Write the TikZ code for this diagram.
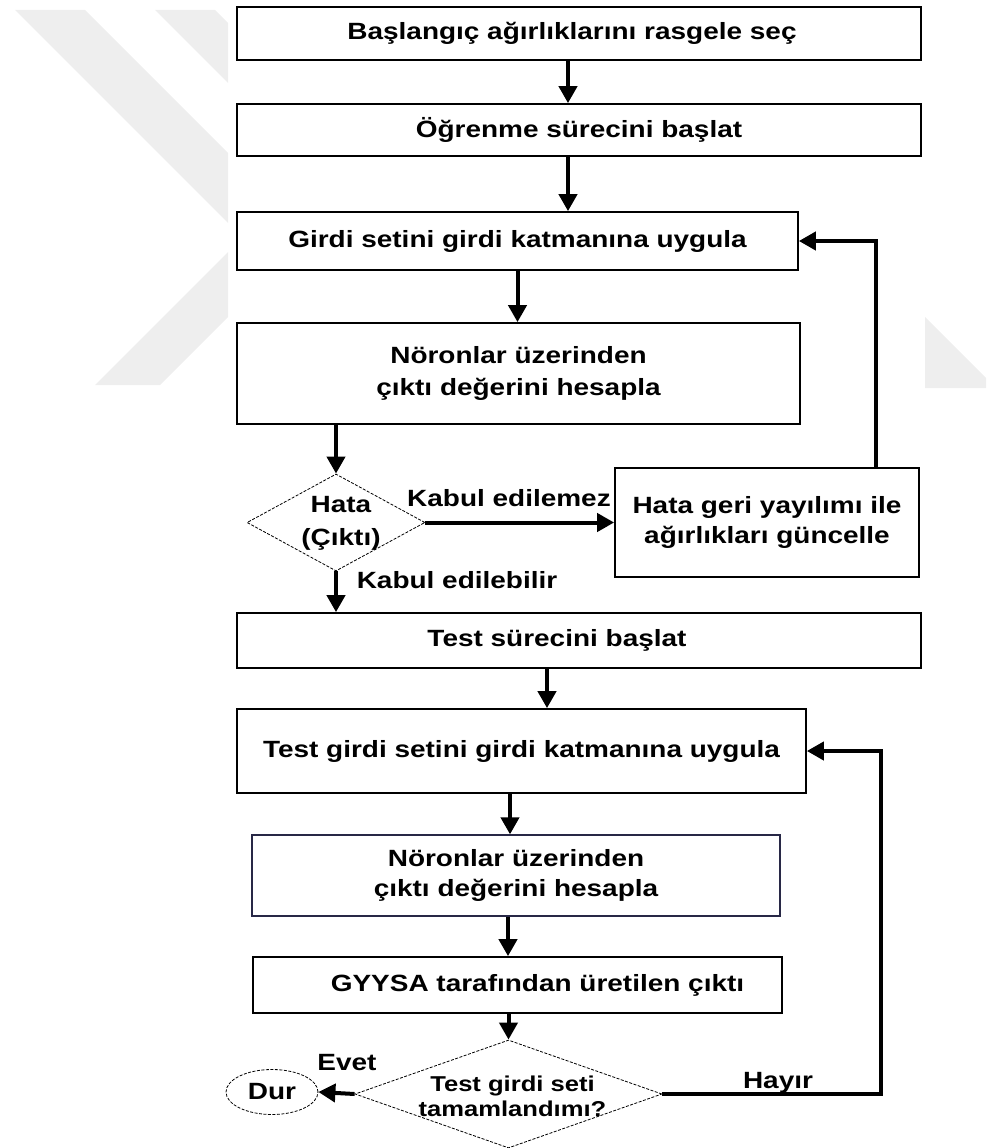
\documentclass[tikz,border=0pt]{standalone}
\usepackage{fontspec}
\setmainfont{Liberation Sans}[FakeStretch=1.19]
\usetikzlibrary{arrows.meta,shapes.geometric}
\definecolor{wm}{HTML}{EEEEEE}
\definecolor{navyline}{RGB}{40,40,70}
\begin{document}
\begin{tikzpicture}[x=1pt,y=-1pt,
  font=\bfseries\fontsize{23.5}{30}\selectfont,
  box/.style={draw=black, line width=1.7pt, fill=white, inner sep=0pt, align=center},
  dia/.style={diamond, draw=black, line width=0.8pt, dash pattern=on 3pt off 1.5pt, fill=white, inner sep=0pt},
  flow/.style={line width=4pt, -{Triangle[width=18pt,length=17pt]}},
  lbl/.style={inner sep=0pt}]
\useasboundingbox (0,0) rectangle (986,1148);

% faint background watermark strokes
\fill[wm] (15,10) -- (85,10) -- (228,153) -- (228,223) -- cycle;
\fill[wm] (155,10) -- (215,10) -- (228,23) -- (228,83) -- cycle;
\fill[wm] (95,385) -- (160,385) -- (228,317) -- (228,252) -- cycle;
\fill[wm] (925,317) -- (986,378) -- (986,388) -- (925,388) -- cycle;

% training phase
\node[box, minimum width=684pt, minimum height=53pt] (b1) at (579,33.5) {Başlangıç ağırlıklarını rasgele seç\hspace*{14pt}};
\node[box, minimum width=684pt, minimum height=52pt] (b2) at (579,130) {Öğrenme sürecini başlat};
\node[box, minimum width=561pt, minimum height=58pt] (b3) at (517.5,241) {Girdi setini girdi katmanına uygula};
\node[box, minimum width=563pt, minimum height=101pt] (b4) at (518.5,373.5) {Nöronlar üzerinden\\[2pt]çıktı değerini hesapla};
\node[dia, minimum width=178pt, minimum height=97pt,
      label={[lbl, align=center, xshift=5pt, yshift=-1pt]center:Hata\\[3pt](Çıktı)}] (d1) at (336,522.5) {};
\node[box, minimum width=304pt, minimum height=109pt] (b5) at (767,522.5) {Hata geri yayılımı ile\\ağırlıkları güncelle};

% test phase
\node[box, minimum width=684pt, minimum height=55pt] (b6) at (579,640.5) {Test sürecini başlat\hspace*{44pt}};
\node[box, minimum width=569pt, minimum height=84pt] (b7) at (521.5,751) {Test girdi setini girdi katmanına uygula};
\node[box, draw=navyline, line width=1.3pt, minimum width=528pt, minimum height=81pt] (b8) at (516,875.5) {Nöronlar üzerinden\\çıktı değerini hesapla};
\node[box, minimum width=529pt, minimum height=56pt] (b9) at (517.5,985) {\hspace*{40pt}GYYSA tarafından üretilen çıktı};
\node[dia, minimum width=307pt, minimum height=108pt,
      label={[lbl, align=center, xshift=4pt, yshift=-2pt, font=\bfseries\fontsize{21.5}{25}\selectfont]center:Test girdi seti\\tamamlandımı?}] (d2) at (508.5,1094) {};
\node[ellipse, draw=black, line width=0.8pt, dash pattern=on 3pt off 1.5pt, inner sep=0pt,
      minimum width=92pt, minimum height=45pt] (dur) at (272,1092) {Dur};

% connector labels
\node[lbl] (kz) at (509,498) {Kabul edilemez};
\node[lbl] (kb) at (457,580) {Kabul edilebilir};
\node[lbl] (ev) at (347,1063) {Evet};
\node[lbl] (hy) at (778,1083) {Hayır};

% connectors
\draw[flow] ([xshift=-11pt]b1.south) -- ([xshift=-11pt]b1.south |- b2.north);
\draw[flow] ([xshift=-11pt]b2.south) -- ([xshift=-11pt]b2.south |- b3.north);
\draw[flow] (b3.south) -- (b3.south |- b4.north);
\draw[flow] (d1.north |- b4.south) -- (d1.north);
\draw[flow] (d1.east) -- (d1.east -| b5.west);
\draw[flow] ([xshift=109pt]b5.north) |- (b3.east);
\draw[flow] (d1.south) -- (d1.south |- b6.north);
\draw[flow] ([xshift=-32pt]b6.south) -- ([xshift=-32pt]b6.south |- b7.north);
\draw[flow] ([xshift=-11.5pt]b7.south) -- ([xshift=-11.5pt]b7.south |- b8.north);
\draw[flow] ([xshift=-8pt]b8.south) -- ([xshift=-8pt]b8.south |- b9.north);
\draw[flow] (d2.north |- b9.south) -- (d2.north);
\draw[flow] (d2.west) -- (dur.east);
\draw[flow] (d2.east) -- ++(219,0) |- (b7.east);
\end{tikzpicture}
\end{document}
